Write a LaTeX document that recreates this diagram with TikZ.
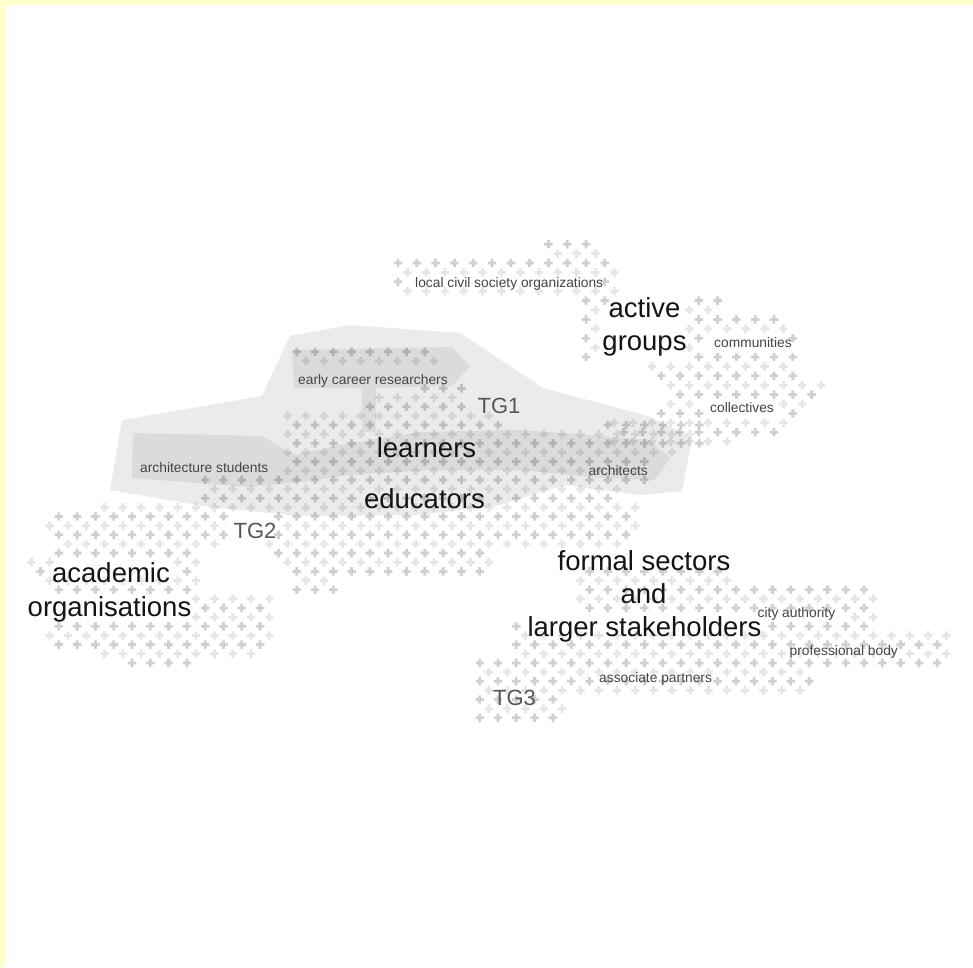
\documentclass[tikz,border=0pt]{standalone}
\usepackage{fontspec}
\setmainfont{Liberation Sans}
\definecolor{frameyellow}{HTML}{FFFFCC}
\definecolor{plusdark}{HTML}{D0D0D0}
\definecolor{pluslight}{HTML}{E6E6E6}
\definecolor{maintext}{HTML}{141414}
\definecolor{tgtext}{HTML}{555555}
\definecolor{smalltext}{HTML}{444444}
% lattice parameters: origin (\lx,\ly), spacing \ls
\def\lx{296.7}\def\ly{425}\def\ls{18.3}
\newcommand{\plusat}[3]{%
  \fill[#1] (#2-4.2,#3-1.4) rectangle (#2+4.2,#3+1.4)
            (#2-1.4,#3-4.2) rectangle (#2+1.4,#3+4.2);}
\newcommand{\prow}[3]{%
  \pgfmathsetmacro\py{\ly+0.5*\ls*(#1)}%
  \pgfmathtruncatemacro\podd{mod(abs(#1),2)}%
  \pgfmathsetmacro\poff{\podd*0.5*\ls}%
  \pgfmathtruncatemacro\pka{ceil((#2-\lx-\poff)/\ls)}%
  \pgfmathtruncatemacro\pkb{floor((#3-\lx-\poff)/\ls)}%
  \ifnum\pkb<\pka\relax\else
    \foreach \pk in {\pka,...,\pkb}{%
      \pgfmathsetmacro\px{\lx+\poff+\ls*\pk}%
      \ifnum\podd=1 \plusat{pluslight}{\px}{\py}\else\plusat{plusdark}{\px}{\py}\fi}%
  \fi}
\tikzset{
  mainlabel/.style={text=maintext, font=\fontsize{27.5}{33}\selectfont, inner sep=0pt, anchor=base},
  tglabel/.style={text=tgtext, font=\fontsize{22}{26}\selectfont, inner sep=0pt, anchor=base},
  smalllabel/.style={text=smalltext, font=\fontsize{13.8}{16}\selectfont, inner sep=0pt, anchor=base west},
  regionfill/.style={fill=black, fill opacity=0.08},
  bandfill/.style={fill=black, fill opacity=0.065}
}
\begin{document}
\begin{tikzpicture}[x=1pt, y=-1pt]
\useasboundingbox (0,0) rectangle (973,967);
\fill[white] (0,0) rectangle (973,967);
% frame
\fill[frameyellow] (0,0) rectangle (973,5);
\fill[frameyellow] (0,0) rectangle (6,967);
% plus cluster: local civil society / active groups
\def\lx{398}\def\ly{263}\def\ls{18.8}
\foreach \r/\a/\b in {-2/545/592, -1/540/612, 0/395/612, 1/400/616, 2/396/406, 2/604/618,
  3/400/616, 4/578/620, 4/688/722, 5/578/616, 5/688/722, 6/578/602, 6/688/792, 7/578/602,
  7/688/800, 8/578/602, 8/688/706, 8/792/802, 9/578/602, 9/688/706, 9/792/802, 10/578/602,
  10/688/800, 11/650/800, 12/655/802, 13/668/826, 14/668/826, 15/655/706, 15/778/812,
  16/655/706, 16/778/798, 17/605/796, 18/605/790, 19/605/745}{\prow{\r}{\a}{\b}}
% plus clusters: learners / educators, academic, formal sectors
\def\lx{296.7}\def\ly{425}\def\ls{18.3}
\foreach \r/\a/\b in {-8/288/440, -7/288/440, -4/420/462, -3/365/462, -2/365/462,
  -1/283/505, 0/283/505, 0/598/712, 1/283/700, 2/283/700, 3/283/690, 4/283/662, 5/283/650,
  6/200/650, 7/200/620, 8/200/615, 9/200/640, 10/278/640, 11/278/640, 12/275/640,
  13/268/630, 14/275/490, 15/275/490, 16/280/490, 17/288/340, 18/292/340}{\prow{\r}{\a}{\b}}
\foreach \r/\a/\b in {9/95/230, 10/45/230, 11/45/225, 12/45/225, 13/50/215, 14/55/195,
  15/28/50, 15/172/200, 16/28/45, 16/172/200, 17/45/200, 18/45/200, 19/192/272, 20/192/272,
  21/192/272, 22/45/272, 23/45/272, 24/50/265, 25/100/262, 26/128/196}{\prow{\r}{\a}{\b}}
\foreach \r/\a/\b in {14/470/495, 15/470/495, 16/578/730, 17/578/730, 18/578/880,
  19/578/880, 20/575/880, 21/508/522, 21/838/880, 22/508/525, 22/765/880, 23/508/955,
  24/508/955, 25/508/955, 26/473/955, 27/473/810, 28/473/810, 29/473/810, 30/473/570,
  31/473/570, 32/478/560}{\prow{\r}{\a}{\b}}
% grey regions (TG1)
\fill[regionfill] (110,490) -- (122,420) -- (262,396) -- (290,336) -- (350,325) -- (460,333)
      -- (543,388) -- (648,416) -- (692,438) -- (682,491) -- (640,495) -- (565,485) -- (500,505)
      -- (420,515) -- (300,516) -- (210,507) -- cycle;
\fill[bandfill] (133,433) -- (262,436) -- (295,455) -- (340,445) -- (420,432) -- (520,430)
      -- (600,436) -- (650,440) -- (670,458) -- (655,480) -- (600,478) -- (520,470) -- (430,470)
      -- (350,475) -- (300,482) -- (250,487) -- (132,478) -- cycle;
\fill[bandfill] (292,350) -- (452,347) -- (470,366) -- (452,386) -- (376,388) -- (376,432)
      -- (362,432) -- (362,388) -- (294,388) -- cycle;
% labels
\node[mainlabel] (learners) at (426.5,457) {learners};
\node[mainlabel] (educators) at (424.5,508) {educators};
\node[mainlabel] (active) at (644.5,317) {active};
\node[mainlabel] (groups) at (644.5,350) {groups};
\node[mainlabel] (academic) at (111,582) {academic};
\node[mainlabel] (organisations) at (109.5,616) {organisations};
\node[mainlabel] (formal) at (644,570) {formal sectors};
\node[mainlabel] (and) at (643.5,603) {and};
\node[mainlabel] (larger) at (644.5,636) {larger stakeholders};
\node[tglabel] (tg1) at (499,413) {TG1};
\node[tglabel] (tg2) at (255,538) {TG2};
\node[tglabel] (tg3) at (514.5,705) {TG3};
\node[smalllabel] (lcso) at (415,287.5) {local civil society organizations};
\node[smalllabel] (communities) at (714,347.5) {communities};
\node[smalllabel] (collectives) at (710,412.5) {collectives};
\node[smalllabel] (ecr) at (298,384) {early career researchers};
\node[smalllabel] (archstud) at (140,472.5) {architecture students};
\node[smalllabel] (architects) at (588.5,475) {architects};
\node[smalllabel] (city) at (757.5,617.5) {city authority};
\node[smalllabel] (profbody) at (789.5,655) {professional body};
\node[smalllabel] (assoc) at (599,682) {associate partners};
\end{tikzpicture}
\end{document}
